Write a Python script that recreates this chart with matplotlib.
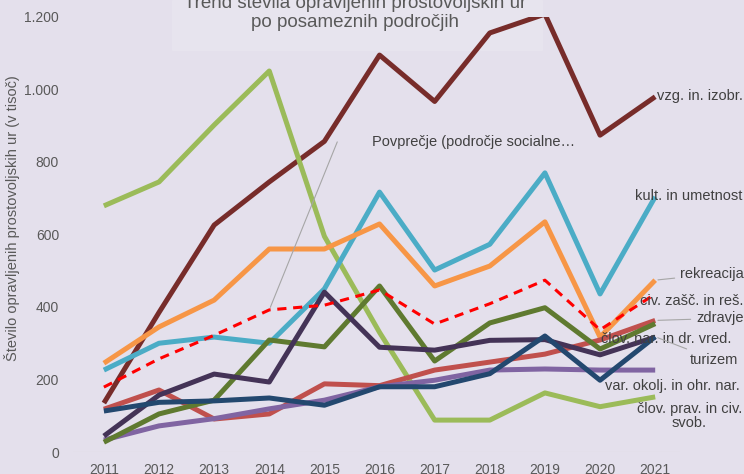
import matplotlib.pyplot as plt
from matplotlib.ticker import FuncFormatter
from matplotlib.patches import Rectangle

plt.rcParams['font.family'] = ['Liberation Sans', 'DejaVu Sans']

# Data (v tisoč ur)
years = list(range(2011, 2022))
vzg_izobr = [135, 385, 626, 745, 857, 1095, 967, 1156, 1208, 874, 980]
clov_prav = [679, 745, 902, 1051, 595, 330, 88, 88, 163, 125, 152]
kult_umet = [226, 300, 317, 300, 450, 717, 502, 573, 770, 436, 704]
rekreacija = [245, 345, 419, 560, 560, 629, 458, 513, 635, 317, 474]
povprecje = [179, 257, 322, 392, 405, 447, 353, 409, 474, 337, 436]
civ_zasc = [27, 105, 143, 309, 290, 458, 251, 356, 398, 284, 354]
clov_nar = [44, 157, 215, 193, 441, 289, 281, 308, 310, 268, 317]
zdravje = [118, 171, 91, 105, 188, 183, 226, 248, 270, 309, 363]
var_okolj = [33, 72, 92, 119, 143, 180, 198, 226, 229, 226, 226]
turizem = [113, 137, 141, 149, 129, 180, 180, 216, 320, 198, 318]

bg = '#E4E0EC'
txt = '#404040'
lead = '#A6A6A6'

fig = plt.figure(figsize=(7.44, 4.74), dpi=100, facecolor=bg)

# title box (slightly lighter), kept behind the plot lines
fig.patches.append(Rectangle((172 / 744, 1 - 50 / 474), 370 / 744, 50 / 474,
                             transform=fig.transFigure, color='#E7E4EE', zorder=-1))

ax = fig.add_axes([73 / 744, 1 - 452 / 474, (680 - 73) / 744, (452 - 17) / 474])
ax.patch.set_alpha(0)

lw = 3.6
ax.plot(years, vzg_izobr, color='#772C2A', lw=lw, solid_capstyle='butt')
ax.plot(years, clov_prav, color='#9BBB59', lw=lw, solid_capstyle='butt')
ax.plot(years, kult_umet, color='#4BACC6', lw=lw, solid_capstyle='butt')
ax.plot(years, rekreacija, color='#F79646', lw=lw, solid_capstyle='butt')
ax.plot(years, zdravje, color='#C0504D', lw=lw, solid_capstyle='butt')
ax.plot(years, var_okolj, color='#8064A2', lw=lw, solid_capstyle='butt')
ax.plot(years, civ_zasc, color='#5F7A30', lw=lw, solid_capstyle='butt')
ax.plot(years, clov_nar, color='#443357', lw=lw, solid_capstyle='butt')
ax.plot(years, turizem, color='#23486F', lw=lw, solid_capstyle='butt')
ax.plot(years, povprecje, color='#FF0000', lw=2.2, ls=(0, (3, 2.2)))

ax.set_xlim(2010.44, 2021.45)
ax.set_ylim(0, 1200)
ax.set_xticks(years)
ax.set_yticks(range(0, 1201, 200))
ax.yaxis.set_major_formatter(FuncFormatter(lambda v, p: f'{int(v):,}'.replace(',', '.')))
ax.tick_params(length=0, labelsize=10, colors='#595959')
ax.tick_params(axis='y', pad=10)
ax.tick_params(axis='x', pad=8)
for s in ax.spines.values():
    s.set_visible(False)
ax.axhline(0, color='#D9D9D9', lw=0.8)

fig.text(12 / 744, 1 - 218 / 474, 'Število opravljenih prostovoljskih ur (v tisoč)',
         rotation=90, ha='center', va='center', fontsize=10.5, color='#595959')
fig.text(355 / 744, 1 - 13 / 474, 'Trend števila opravljenih prostovoljskih ur\npo posameznih področjih',
         ha='center', va='center', fontsize=13.5, color='#595959', linespacing=1.1)

# end labels (offsets in points, 1 px = 0.72 pt)
def lab(text, y, dx, dy, leader=False, **kw):
    ax.annotate(text, xy=(years[-1], y), xytext=(dx * 0.72, dy * 0.72),
                textcoords='offset points', va='center', fontsize=10.5, color=txt,
                annotation_clip=False, **kw,
                arrowprops=dict(arrowstyle='-', color=lead, lw=0.8, shrinkA=2, shrinkB=2) if leader else None)

lab('vzg. in. izobr.', vzg_izobr[-1], 2, 1)
lab('kult. in umetnost', kult_umet[-1], -20, 1)
lab('rekreacija', rekreacija[-1], 25, 6, leader=True)
lab('civ. zašč. in reš.', civ_zasc[-1], -15, 23)
lab('zdravje', zdravje[-1], 41, 2, leader=True)
lab('člov. nar. in dr. vred.', clov_nar[-1], -54, -2)
lab('turizem', turizem[-1], 35, -23, leader=True)
lab('var. okolj. in ohr. nar.', var_okolj[-1], -50, -16)
lab('člov. prav. in civ.\nsvob.', clov_prav[-1], 34, -19, ha='center', linespacing=1.05)

# average label with leader line
ax.annotate('', xy=(years[3], povprecje[3]), xytext=(68 * 0.72, 168 * 0.72),
            textcoords='offset points',
            arrowprops=dict(arrowstyle='-', color=lead, lw=0.8, shrinkA=0, shrinkB=2))
ax.annotate('Povprečje (področje socialne…', xy=(years[3], povprecje[3]),
            xytext=(103 * 0.72, 168 * 0.72), textcoords='offset points',
            va='center', fontsize=10.5, color=txt)

fig.savefig('out.png', dpi=100, facecolor=bg)
